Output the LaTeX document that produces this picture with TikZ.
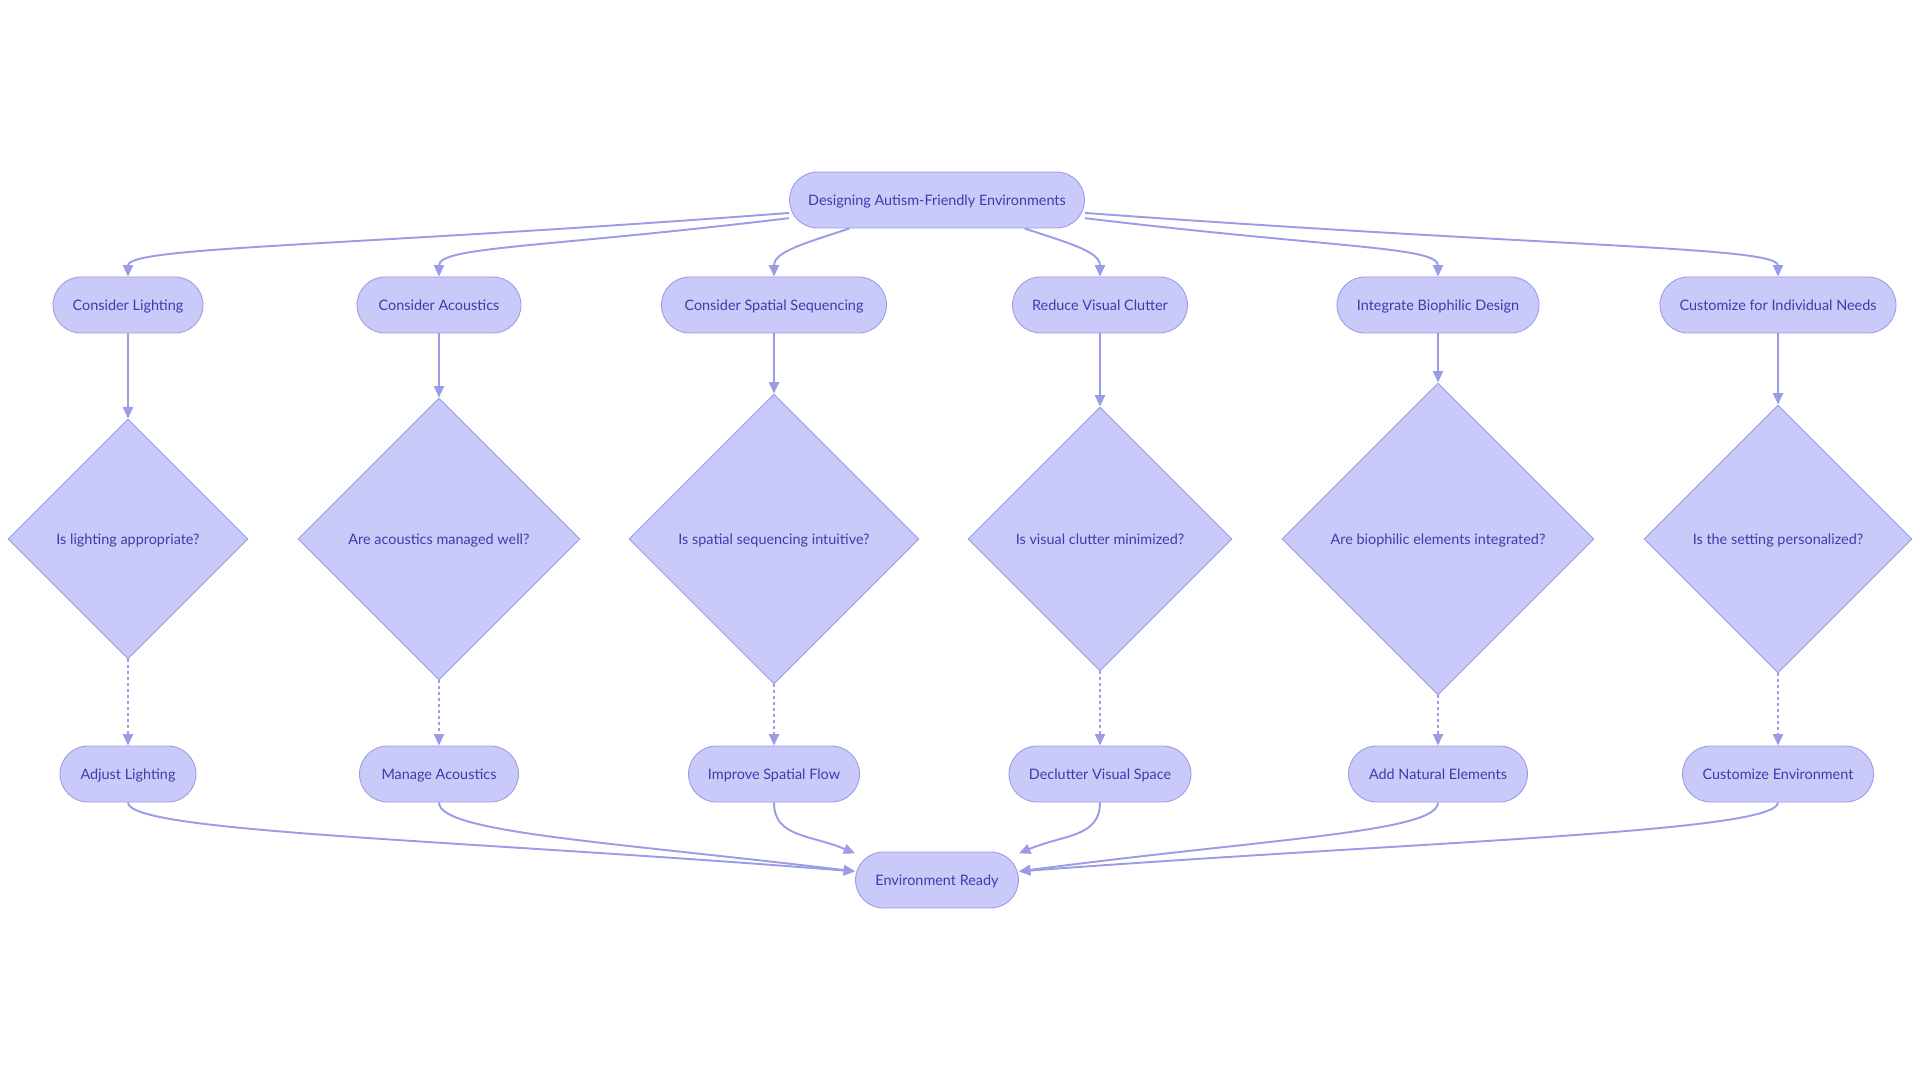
\documentclass[tikz,border=0pt]{standalone}
\usepackage{fontspec}
\setmainfont{Lato}
\usetikzlibrary{arrows.meta,shapes.geometric}
\definecolor{boxfill}{HTML}{C9CAFA}
\definecolor{boxline}{HTML}{9A9CE6}
\definecolor{flowline}{HTML}{9A9CE6}
\definecolor{boxtext}{HTML}{3B3DA8}
\tikzset{
  term/.style={rectangle, rounded corners=0.56cm, draw=boxline, fill=boxfill, line width=0.5pt,
               minimum height=1.12cm, inner sep=0pt, text height=5.9pt, text depth=0pt,
               text=boxtext, font=\fontsize{8.2}{10}\selectfont},
  dec/.style={diamond, aspect=1, draw=boxline, fill=boxfill, line width=0.5pt,
              inner sep=0pt, text height=5.9pt, text depth=0pt,
              text=boxtext, font=\fontsize{8.2}{10}\selectfont},
  fe/.style={draw=flowline, line width=1.1pt, -{Triangle[length=6.5pt,width=5.7pt]}},   % flow edge
  oe/.style={fe, dash pattern=on 1.7pt off 1.7pt},                                      % dotted edge
}
\begin{document}
\begin{tikzpicture}[x=2cm, y=-2cm]
  \useasboundingbox (0,0) rectangle (19.2,10.8);
  \node[term, minimum width=5.9cm] (top) at (9.37,2.00) {Designing Autism-Friendly Environments};
  % second row
  \node[term, minimum width=3.0cm]  (cl) at (1.28,3.05)  {Consider Lighting};
  \node[term, minimum width=3.28cm] (ca) at (4.39,3.05)  {Consider Acoustics};
  \node[term, minimum width=4.5cm]  (cs) at (7.74,3.05)  {Consider Spatial Sequencing};
  \node[term, minimum width=3.5cm]  (rv) at (11.00,3.05) {Reduce Visual Clutter};
  \node[term, minimum width=4.04cm] (ib) at (14.38,3.05) {Integrate Biophilic Design};
  \node[term, minimum width=4.72cm] (ci) at (17.78,3.05) {Customize for Individual Needs};
  % questions
  \node[dec, minimum size=4.8cm]  (dl) at (1.28,5.39)  {Is lighting appropriate?};
  \node[dec, minimum size=5.64cm] (da) at (4.39,5.39)  {Are acoustics managed well?};
  \node[dec, minimum size=5.8cm]  (ds) at (7.74,5.39)  {Is spatial sequencing intuitive?};
  \node[dec, minimum size=5.28cm] (dv) at (11.00,5.39) {Is visual clutter minimized?};
  \node[dec, minimum size=6.24cm] (db) at (14.38,5.39) {Are biophilic elements integrated?};
  \node[dec, minimum size=5.36cm] (dp) at (17.78,5.39) {Is the setting personalized?};
  % actions
  \node[term, minimum width=2.72cm] (al) at (1.28,7.74)  {Adjust Lighting};
  \node[term, minimum width=3.18cm] (ma) at (4.39,7.74)  {Manage Acoustics};
  \node[term, minimum width=3.42cm] (is) at (7.74,7.74)  {Improve Spatial Flow};
  \node[term, minimum width=3.64cm] (dc) at (11.00,7.74) {Declutter Visual Space};
  \node[term, minimum width=3.58cm] (an) at (14.38,7.74) {Add Natural Elements};
  \node[term, minimum width=3.82cm] (ce) at (17.78,7.74) {Customize Environment};
  \node[term, minimum width=3.26cm] (er) at (9.37,8.80)  {Environment Ready};

  \draw[fe] (top.185) .. controls +(-4.5,0.34) and +(0,-0.3) .. (cl.north);
  \draw[fe] (top.187) .. controls +(-2.5,0.3) and +(0,-0.3) .. (ca.north);
  \draw[fe] (top.198) .. controls +(-0.45,0.15) and +(0,-0.25) .. (cs.north);
  \draw[fe] (top.342) .. controls +(0.45,0.15) and +(0,-0.25) .. (rv.north);
  \draw[fe] (top.353) .. controls +(2.5,0.3) and +(0,-0.3) .. (ib.north);
  \draw[fe] (top.355) .. controls +(4.8,0.35) and +(0,-0.3) .. (ci.north);
  \foreach \u/\v in {cl/dl,ca/da,cs/ds,rv/dv,ib/db,ci/dp} \draw[fe] (\u)--(\v);
  \foreach \u/\v in {dl/al,da/ma,ds/is,dv/dc,db/an,dp/ce} \draw[oe] (\u)--(\v);
  \draw[fe] (al.south) .. controls +(0,0.3) and +(-4,-0.32) .. (er.174);
  \draw[fe] (ma.south) .. controls +(0,0.3) and +(-2.5,-0.3) .. (er.174);
  \draw[fe] (is.south) .. controls +(0,0.35) and +(-0.45,-0.19) .. (er.162);
  \draw[fe] (dc.south) .. controls +(0,0.35) and +(0.45,-0.19) .. (er.18);
  \draw[fe] (an.south) .. controls +(0,0.3) and +(2.5,-0.33) .. (er.6);
  \draw[fe] (ce.south) .. controls +(0,0.3) and +(4,-0.3) .. (er.6);
\end{tikzpicture}
\end{document}
